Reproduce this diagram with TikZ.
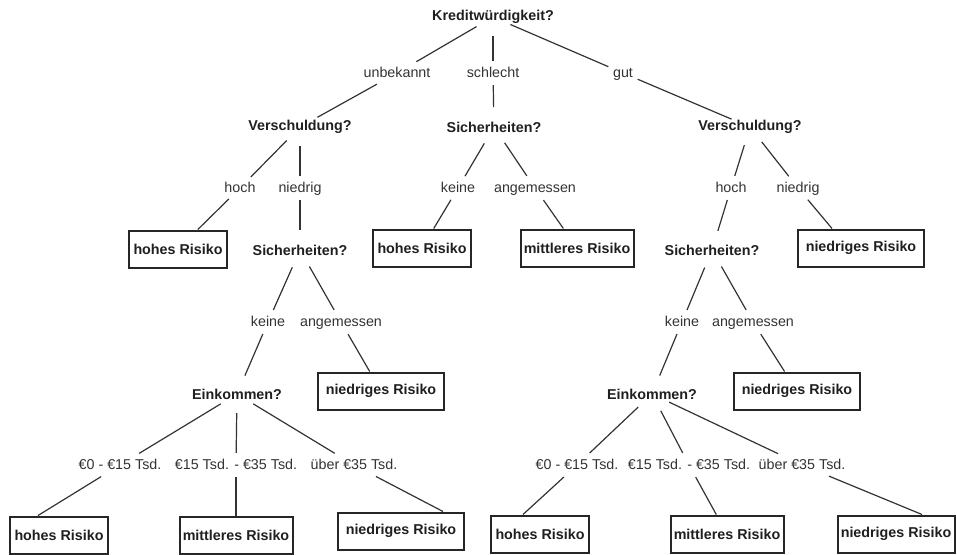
\documentclass[tikz,border=0pt]{standalone}
\usepackage{fontspec}
\setmainfont{Liberation Sans}
\usetikzlibrary{shapes.geometric}
\begin{document}
\begin{tikzpicture}[x=1pt,y=-1pt,
  txt/.style={font=\fontsize{14.3}{17}\selectfont, text=black!88},
  decision/.style={txt, font=\fontsize{14.3}{17}\selectfont\bfseries, inner sep=0pt},
  branch/.style={txt, text=black!80, ellipse, inner sep=2pt, text height=11pt, text depth=2pt},
  leaf/.style={txt, font=\fontsize{14.3}{17}\selectfont\bfseries, draw=black!85, line width=2pt,
    inner sep=3pt, minimum height=37pt},
  hoch/.style={leaf, minimum width=98pt},
  mittel/.style={leaf, minimum width=113pt},
  niedrig/.style={leaf, minimum width=126pt},
  edge/.style={draw=black!80, line width=1.2pt},
  fromdec/.style={edge, shorten <=19pt},
  todec/.style={edge, shorten >=20pt}
]
\useasboundingbox (0,0) rectangle (957,554);

% root and first split
\node[decision] (root) at (493,17) {Kreditwürdigkeit?};
\node[branch] (unb) at (397,73) {unbekannt};
\node[branch] (sch) at (493,73) {schlecht};
\node[branch] (gut) at (623,73) {gut};

% second level
\node[decision] (v1) at (300,127) {Verschuldung?};
\node[decision] (s2) at (494,127) {Sicherheiten?};
\node[decision] (v3) at (750,127) {Verschuldung?};

\node[branch] (h1) at (240,188) {hoch};
\node[branch] (n1) at (300,188) {niedrig};
\node[branch] (k2) at (458,188) {keine};
\node[branch] (a2) at (535,188) {angemessen};
\node[branch] (h3) at (731,188) {hoch};
\node[branch] (n3) at (798,188) {niedrig};

% third level
\node[hoch] (b1) at (178,249) {hohes Risiko};
\node[decision] (s1) at (300,250) {Sicherheiten?};
\node[hoch] (b2) at (422,248) {hohes Risiko};
\node[mittel] (b3) at (577,248) {mittleres Risiko};
\node[decision] (s3) at (712,250) {Sicherheiten?};
\node[niedrig] (b4) at (861,248) {niedriges Risiko};

\node[branch] (k1) at (268,322) {keine};
\node[branch] (a1) at (341,322) {angemessen};
\node[branch] (k3) at (682,322) {keine};
\node[branch] (a3) at (753,322) {angemessen};

% fourth level
\node[decision] (e1) at (237,394) {Einkommen?};
\node[niedrig] (b5) at (381,391) {niedriges Risiko};
\node[decision] (e3) at (652,394) {Einkommen?};
\node[niedrig] (b6) at (797,391) {niedriges Risiko};

\node[branch] (p1) at (120,465) {€0 - €15 Tsd.};
\node[branch] (q1) at (236,465) {€15 Tsd. - €35 Tsd.};
\node[branch] (r1) at (354,465) {über €35 Tsd.};
\node[branch] (p3) at (577,465) {€0 - €15 Tsd.};
\node[branch] (q3) at (689,465) {€15 Tsd. - €35 Tsd.};
\node[branch] (r3) at (802,465) {über €35 Tsd.};

% leaves
\node[hoch] (b7) at (59,535) {hohes Risiko};
\node[mittel] (b8) at (236,535) {mittleres Risiko};
\node[niedrig] (b9) at (401,531) {niedriges Risiko};
\node[hoch] (b10) at (540,534) {hohes Risiko};
\node[mittel] (b11) at (727,534) {mittleres Risiko};
\node[leaf, minimum width=117pt] (b12) at (896,534) {niedriges Risiko};

% connectors leaving a question
\foreach \a/\b in {root/unb, root/sch, root/gut, v1/h1, v1/n1, s2/k2, s2/a2,
    v3/h3, v3/n3, s1/k1, s1/a1, s3/k3, s3/a3, e1/p1, e1/q1, e1/r1, e3/p3, e3/q3, e3/r3}
  \draw[fromdec] (\a.center) -- (\b);

% connectors entering a question
\foreach \a/\b in {unb/v1, sch/s2, gut/v3, n1/s1, h3/s3, k1/e1, k3/e3}
  \draw[todec] (\a) -- (\b.center);

% connectors ending at a result box
\foreach \a/\b in {h1/b1, k2/b2, a2/b3, a1/b5, a3/b6, q1/b8, q3/b11}
  \draw[edge] (\a) -- (\b);
\draw[edge] (n3) -- ([xshift=-29pt]b4.north);
\draw[edge] (p1) -- ([xshift=-21pt]b7.north);
\draw[edge] (r1) -- ([xshift=42pt]b9.north);
\draw[edge] (p3) -- ([xshift=-17pt]b10.north);
\draw[edge] (r3) -- ([xshift=26pt]b12.north);
\end{tikzpicture}
\end{document}
